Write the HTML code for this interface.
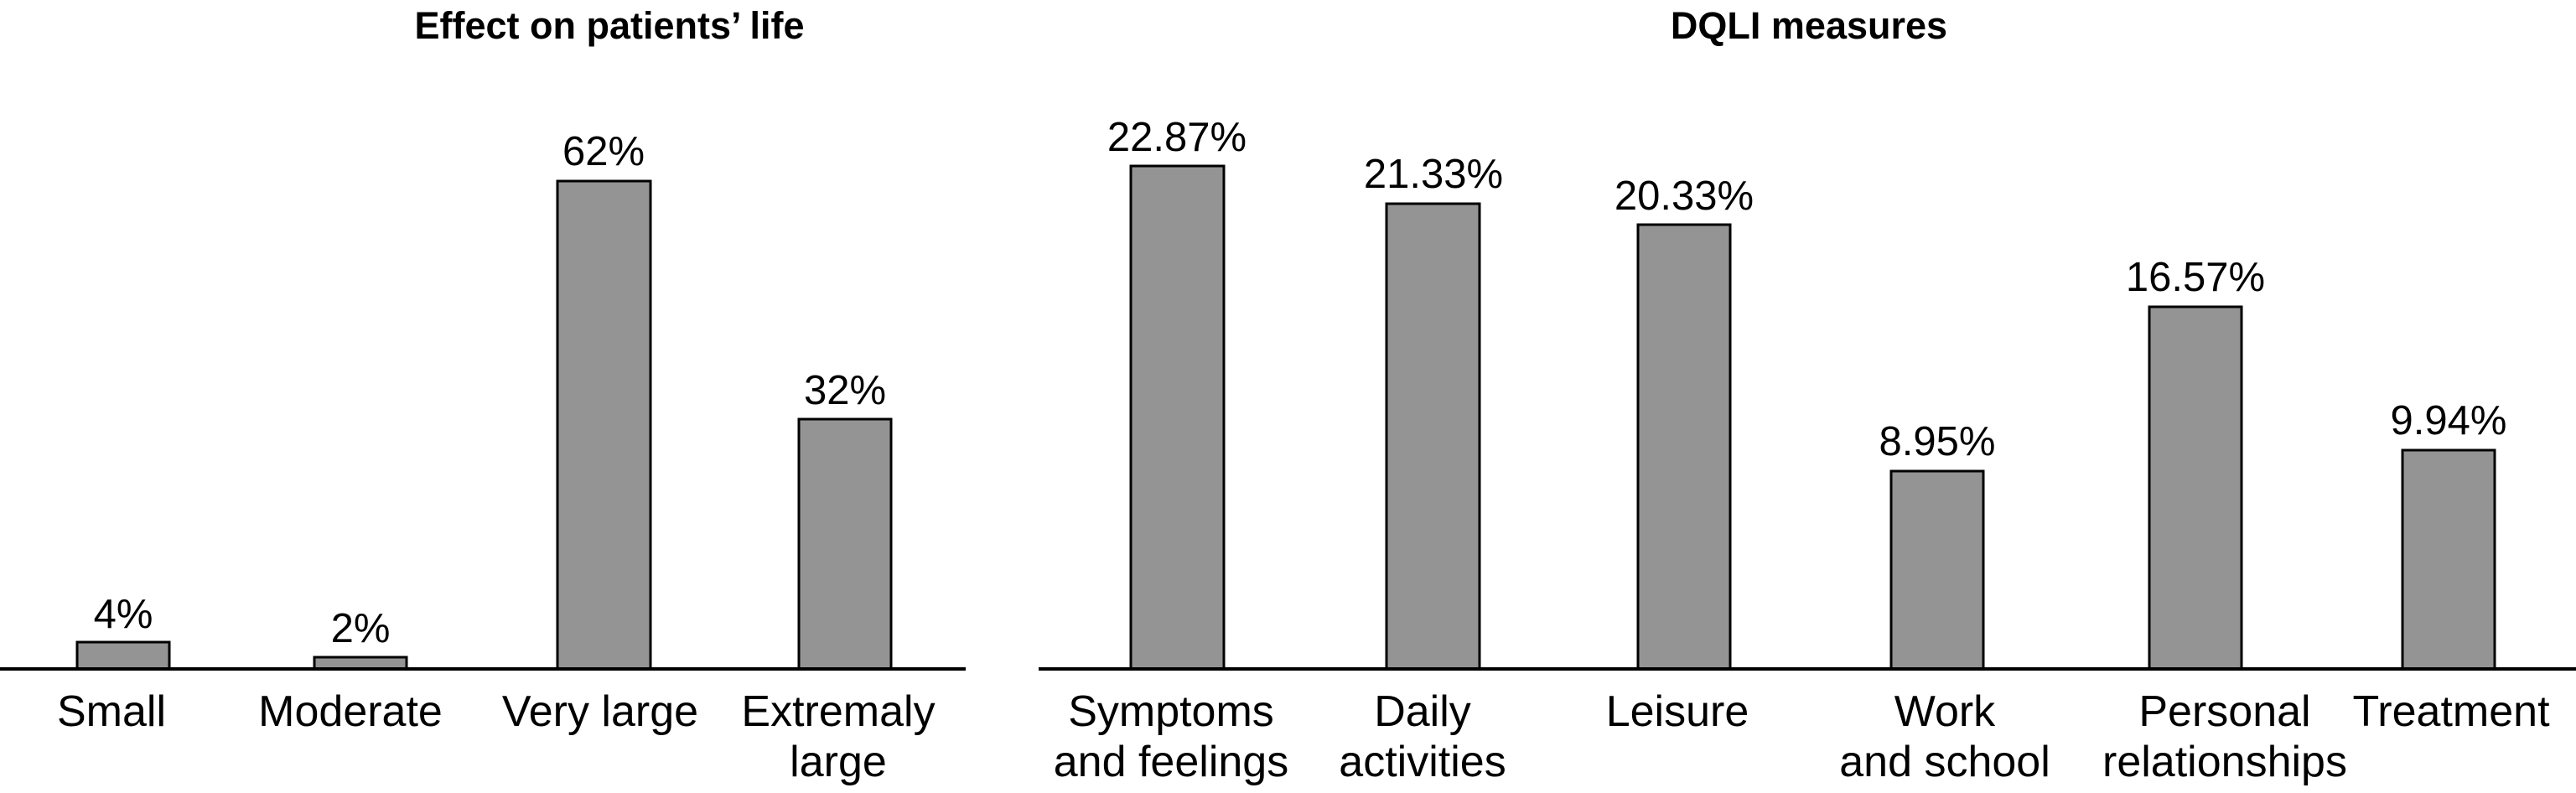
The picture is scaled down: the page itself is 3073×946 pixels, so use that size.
<!DOCTYPE html>
<html><head><style>html,body{margin:0;padding:0;background:#fff}</style></head>
<body>
<svg width="3073" height="941" xmlns="http://www.w3.org/2000/svg" font-family="'Liberation Sans',sans-serif">
<rect width="3073" height="941" fill="#fff"/>
<g font-weight="bold" font-size="45" text-anchor="middle">
<text x="727" y="46">Effect on patients’ life</text>
<text x="2158" y="46">DQLI measures</text>
</g>
<g fill="#949494" stroke="#000" stroke-width="3">
<rect x="92" y="766" width="110" height="32"/>
<rect x="375" y="784" width="110" height="14"/>
<rect x="665" y="216" width="111" height="582"/>
<rect x="953" y="500" width="110" height="298"/>
<rect x="1349" y="198" width="111" height="600"/>
<rect x="1654" y="243" width="111" height="555"/>
<rect x="1954" y="268" width="110" height="530"/>
<rect x="2256" y="562" width="110" height="236"/>
<rect x="2564" y="366" width="110" height="432"/>
<rect x="2866" y="537" width="110" height="261"/>
</g>
<line x1="0" y1="798" x2="1152" y2="798" stroke="#000" stroke-width="4"/>
<line x1="1239" y1="798" x2="3073" y2="798" stroke="#000" stroke-width="4"/>
<g font-size="49" text-anchor="middle">
<text x="147" y="749">4%</text>
<text x="430" y="766">2%</text>
<text x="720" y="197">62%</text>
<text x="1008" y="482">32%</text>
<text x="1404" y="180">22.87%</text>
<text x="1710" y="224">21.33%</text>
<text x="2009" y="250">20.33%</text>
<text x="2311" y="543">8.95%</text>
<text x="2619" y="347">16.57%</text>
<text x="2921" y="518">9.94%</text>
</g>
<g font-size="52" text-anchor="middle">
<text x="133" y="866">Small</text>
<text x="418" y="866">Moderate</text>
<text x="716" y="866">Very large</text>
<text x="1000" y="866">Extremaly</text>
<text x="1000" y="926">large</text>
<text x="1397" y="866">Symptoms</text>
<text x="1397" y="926">and feelings</text>
<text x="1697" y="866">Daily</text>
<text x="1697" y="926">activities</text>
<text x="2001" y="866">Leisure</text>
<text x="2320" y="866">Work</text>
<text x="2320" y="926">and school</text>
<text x="2654" y="866">Personal</text>
<text x="2654" y="926">relationships</text>
<text x="2924" y="866">Treatment</text>
</g>
</svg>
</body></html>
